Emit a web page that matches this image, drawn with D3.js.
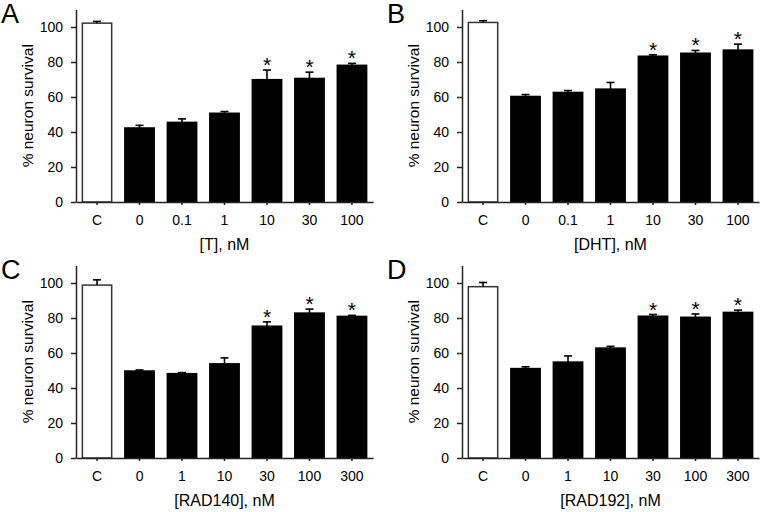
<!DOCTYPE html>
<html><head><meta charset="utf-8">
<script src="https://cdn.jsdelivr.net/npm/d3@7"></script>
<style>body{margin:0;background:#fff}svg{display:block}text{font-family:"Liberation Sans",Arial,Helvetica,sans-serif;fill:#000}</style>
</head><body>
<script>
// Panel data
const catsA = ["C","0","0.1","1","10","30","100"];
const valsA = [102.2, 42.3, 45.5, 50.7, 69.9, 70.6, 78.1];
const errsA = [1.0, 1.5, 2.0, 1.0, 5.5, 3.6, 1.1];
const starsA = [false,false,false,false,true,true,true];

const catsB = ["C","0","0.1","1","10","30","100"];
const valsB = [102.6, 60.3, 62.6, 64.5, 83.3, 85.0, 86.8];
const errsB = [1.0, 1.1, 1.1, 3.8, 0.8, 1.6, 3.4];
const starsB = [false,false,false,false,true,true,true];

const catsC = ["C","0","1","10","30","100","300"];
const valsC = [98.8, 49.7, 48.2, 53.8, 75.3, 82.8, 80.9];
const errsC = [3.0, 0.6, 0.6, 3.4, 2.5, 2.3, 0.6];
const starsC = [false,false,false,false,true,true,true];

const catsD = ["C","0","1","10","30","100","300"];
const valsD = [97.9, 51.1, 54.8, 62.8, 81.0, 80.4, 83.2];
const errsD = [2.4, 1.0, 3.5, 1.0, 1.0, 1.9, 1.3];
const starsD = [false,false,false,false,true,true,true];

const yTicks = [0,20,40,60,80,100];
const yTitle = "% neuron survival";

const panels = [
  {letter:"A", xTitle:"[T], nM", cats:catsA, vals:valsA, errs:errsA, stars:starsA, ox:0, oy:0},
  {letter:"B", xTitle:"[DHT], nM", cats:catsB, vals:valsB, errs:errsB, stars:starsB, ox:386, oy:0},
  {letter:"C", xTitle:"[RAD140], nM", cats:catsC, vals:valsC, errs:errsC, stars:starsC, ox:0, oy:256},
  {letter:"D", xTitle:"[RAD192], nM", cats:catsD, vals:valsD, errs:errsD, stars:starsD, ox:386, oy:256}
];

const W = 762, H = 512;
const svg = d3.select("body").append("svg").attr("width", W).attr("height", H);

const axisColor = "#222";
const FONT = '"Liberation Sans",Arial,sans-serif';

panels.forEach(p => {
  const g = svg.append("g").attr("transform", `translate(${p.ox},${p.oy})`);
  const left = 76, right = 373, y0 = 202, yTop = 9.5;
  const x = d3.scaleBand().domain(p.cats).range([left, right]).paddingInner(0.31).paddingOuter(0.15);
  const y = d3.scaleLinear().domain([0, 110]).range([y0, yTop]);

  // bars
  g.selectAll("rect.bar").data(p.vals).join("rect")
    .attr("x", (d,i) => x(p.cats[i]))
    .attr("width", x.bandwidth())
    .attr("y", d => y(d))
    .attr("height", d => y0 - y(d))
    .attr("fill", (d,i) => i === 0 ? "#fff" : "#000")
    .attr("stroke", (d,i) => i === 0 ? "#333" : "#000")
    .attr("stroke-width", 1.5);

  // error bars (upper only)
  const capW = 8;
  p.vals.forEach((v,i) => {
    const cx = x(p.cats[i]) + x.bandwidth()/2;
    const col = "#000";
    const top = y(v + p.errs[i]);
    g.append("line").attr("x1", cx).attr("x2", cx)
      .attr("y1", y(v)).attr("y2", top)
      .attr("stroke", col).attr("stroke-width", 1.6);
    g.append("line").attr("x1", cx - capW/2).attr("x2", cx + capW/2)
      .attr("y1", top).attr("y2", top)
      .attr("stroke", col).attr("stroke-width", 1.6);
    if (p.stars[i]) {
      g.append("text").attr("x", cx).attr("y", top + 2)
        .attr("text-anchor", "middle").attr("font-size", 21).text("*");
    }
  });

  // y axis
  const ya = g.append("g").attr("transform", `translate(${left},0)`)
    .call(d3.axisLeft(y).tickValues(yTicks).tickSize(5).tickPadding(8).tickSizeOuter(0));
  ya.select(".domain").attr("stroke", axisColor).attr("stroke-width", 1.5);
  ya.selectAll(".tick line").attr("stroke", axisColor).attr("stroke-width", 1.5);
  ya.selectAll(".tick text").attr("font-size", 14).attr("font-family", FONT).attr("fill", "#000");

  // x axis
  const xa = g.append("g").attr("transform", `translate(0,${y0})`)
    .call(d3.axisBottom(x).tickSize(3).tickPadding(10.5).tickSizeOuter(0));
  xa.select(".domain").attr("stroke", axisColor).attr("stroke-width", 1.5);
  xa.selectAll(".tick line").attr("stroke", axisColor).attr("stroke-width", 1.5);
  xa.selectAll(".tick text").attr("font-size", 14).attr("font-family", FONT).attr("fill", "#000");

  // titles
  g.append("text").attr("x", (left + right)/2).attr("y", 250)
    .attr("text-anchor", "middle").attr("font-size", 16).text(p.xTitle);
  g.append("text").attr("transform", `translate(33,${(y0 + yTop)/2}) rotate(-90)`)
    .attr("text-anchor", "middle").attr("font-size", 15.5).text(yTitle);
  g.append("text").attr("x", 1).attr("y", 23).attr("font-size", 27).text(p.letter);
});
</script>
</body></html>
